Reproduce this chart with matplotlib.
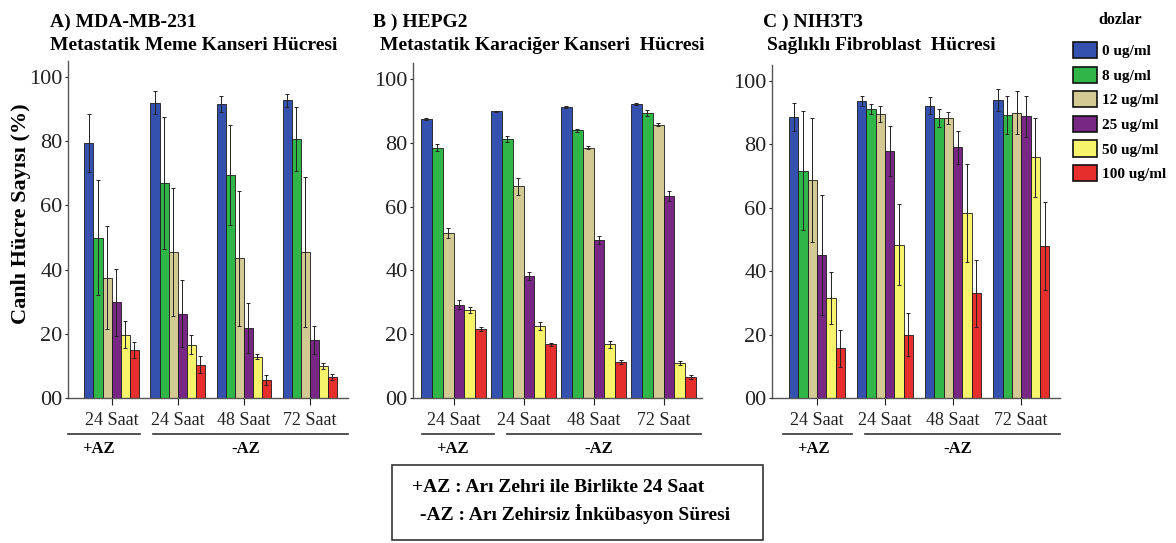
import numpy as np
import matplotlib
matplotlib.use("Agg")
import matplotlib.pyplot as plt
from matplotlib.patches import Patch

plt.rcParams['font.family'] = ['Liberation Serif', 'DejaVu Serif']

doses = ['0 ug/ml', '8 ug/ml', '12 ug/ml', '25 ug/ml', '50 ug/ml', '100 ug/ml']
colors = ['#3551b0', '#2fb548', '#d3c993', '#782785', '#f7f36a', '#e62e2c']
groups = ['24 Saat', '24 Saat', '48 Saat', '72 Saat']

# rows = doses, cols = groups
a_mean = [[79.5, 92.0, 91.5, 92.7],
          [50.0, 67.0, 69.5, 80.7],
          [37.5, 45.5, 43.5, 45.5],
          [29.8, 26.3, 21.8, 18.0],
          [19.7, 16.6, 12.8, 10.0],
          [15.0, 10.4, 5.7, 6.5]]
a_err = [[9.0, 3.6, 2.5, 2.0],
         [18.0, 20.5, 15.5, 10.0],
         [16.0, 20.0, 21.0, 23.5],
         [10.5, 10.5, 7.7, 4.3],
         [4.2, 3.0, 0.8, 1.0],
         [2.5, 2.6, 1.6, 1.0]]

b_mean = [[87.4, 89.8, 91.2, 92.2],
          [78.5, 81.1, 83.9, 89.3],
          [51.8, 66.3, 78.5, 85.7],
          [29.3, 38.3, 49.5, 63.4],
          [27.5, 22.5, 16.8, 10.9],
          [21.5, 16.8, 11.2, 6.7]]
b_err = [[0.4, 0.3, 0.3, 0.3],
         [1.0, 1.0, 0.5, 1.0],
         [1.5, 2.8, 0.5, 0.6],
         [1.3, 1.3, 1.3, 1.5],
         [1.0, 1.3, 1.2, 0.6],
         [0.6, 0.5, 0.6, 0.6]]

c_mean = [[88.5, 93.7, 92.1, 93.9],
          [71.7, 91.1, 88.3, 89.2],
          [68.8, 89.5, 88.3, 90.0],
          [45.0, 77.8, 79.0, 88.8],
          [31.6, 48.4, 58.4, 75.9],
          [15.7, 19.9, 33.0, 47.9]]
c_err = [[4.4, 1.6, 2.7, 3.5],
         [18.8, 1.5, 2.8, 6.1],
         [19.5, 2.6, 1.8, 6.9],
         [18.9, 7.9, 5.3, 6.5],
         [8.2, 12.9, 15.4, 12.4],
         [5.8, 6.8, 10.5, 13.9]]

titles = [('A) MDA-MB-231', 'Metastatik Meme Kanseri Hücresi'),
          ('B ) HEPG2', 'Metastatik Karaciğer Kanseri  Hücresi'),
          ('C ) NIH3T3', 'Sağlıklı Fibroblast  Hücresi')]

W, H = 1176, 543
fig = plt.figure(figsize=(W / 100, H / 100), dpi=100)

def px(x0, y0, x1, y1):
    return [x0 / W, 1 - y1 / H, (x1 - x0) / W, (y1 - y0) / H]

panels = [
    dict(mean=a_mean, err=a_err, rect=(68, 61, 348, 398), xlim=(-0.66, 3.58), bw=0.137,
         title_xy=(50, 50), line1=(68, 140), line2=(153, 348)),
    dict(mean=b_mean, err=b_err, rect=(413, 63, 702, 398), xlim=(-0.58, 3.55), bw=0.155,
         title_xy=(373, 380), line1=(422, 494), line2=(507, 701)),
    dict(mean=c_mean, err=c_err, rect=(772, 65, 1060, 398), xlim=(-0.66, 3.57), bw=0.137,
         title_xy=(763, 767), line1=(783, 852), line2=(865, 1060)),
]

x = np.arange(len(groups))
for p, (t1, t2) in zip(panels, titles):
    ax = fig.add_axes(px(*p['rect']))
    mean = np.array(p['mean'])
    err = np.array(p['err'])
    bw = p['bw']
    for i in range(len(doses)):
        off = (i - 2.5) * bw
        ax.bar(x + off, mean[i], bw, color=colors[i], edgecolor='#1a1a1a', linewidth=0.6,
               yerr=err[i], error_kw=dict(elinewidth=0.7, ecolor='#222222', capsize=1.2,
                                          capthick=0.7))
    ax.set_ylim(0, 105)
    ax.set_xlim(*p['xlim'])
    ax.set_yticks([0, 20, 40, 60, 80, 100])
    ax.set_yticklabels(['00', '20', '40', '60', '80', '100'], family='Liberation Serif')
    ax.set_xticks(x)
    ax.set_xticklabels(groups, family='Liberation Serif')
    ax.tick_params(axis='y', length=2, labelsize=16, colors='#222222', pad=2)
    ax.tick_params(axis='x', length=5, labelsize=13, colors='#222222', pad=5)
    for s in ['top', 'right']:
        ax.spines[s].set_visible(False)
    for s in ['left', 'bottom']:
        ax.spines[s].set_color('#555555')
        ax.spines[s].set_linewidth(1.0)

    # titles
    tx1, tx2 = p['title_xy']
    fig.text(tx1 / W, 1 - 27 / H, t1, fontsize=14, fontweight='bold', va='baseline')
    fig.text(tx2 / W, 1 - 50 / H, t2, fontsize=14, fontweight='bold', va='baseline')

    # group underlines and +AZ / -AZ
    ly = 1 - 434 / H
    for (l0, l1) in (p['line1'], p['line2']):
        fig.add_artist(plt.Line2D([l0 / W, l1 / W], [ly, ly], color='#333333', lw=1.2))
    fig.text((p['line1'][0] + 14) / W, 1 - 449 / H, '+AZ', fontsize=12, fontweight='bold',
             va='center', ha='left')
    fig.text((p['line2'][0] + p['line2'][1]) / 2 / W - 5 / W, 1 - 449 / H, '-AZ', fontsize=12,
             fontweight='bold', va='center', ha='center')

fig.text(21 / W, 1 - 214 / H, 'Canlı Hücre Sayısı (%)', rotation=90, fontsize=16,
         fontweight='bold', va='center', ha='center')

# legend
fig.text(1120 / W, 1 - 20 / H, 'dozlar', fontsize=11.5, fontweight='bold',
         ha='center', va='center')
handles = [Patch(facecolor=c, edgecolor='#111111', linewidth=1.2) for c in colors]
fig.legend(handles, doses, loc='upper left', bbox_to_anchor=(1073 / W, 1 - 42 / H),
           frameon=False, handlelength=1.57, handleheight=1.25, borderpad=0,
           handletextpad=0.35, labelspacing=0.55, prop=dict(size=11, weight='bold'),
           borderaxespad=0)

# note box
fig.add_artist(plt.Rectangle((392 / W, 1 - 540 / H), (763 - 392) / W, (540 - 465) / H,
                             fill=False, edgecolor='#333333', lw=1.2))
fig.text(412 / W, 1 - 488 / H, '+AZ : Arı Zehri ile Birlikte 24 Saat', fontsize=14,
         fontweight='bold', va='center')
fig.text(415 / W, 1 - 514 / H, ' -AZ : Arı Zehirsiz İnkübasyon Süresi', fontsize=14,
         fontweight='bold', va='center')

fig.savefig('out.png', dpi=100, facecolor='white')
